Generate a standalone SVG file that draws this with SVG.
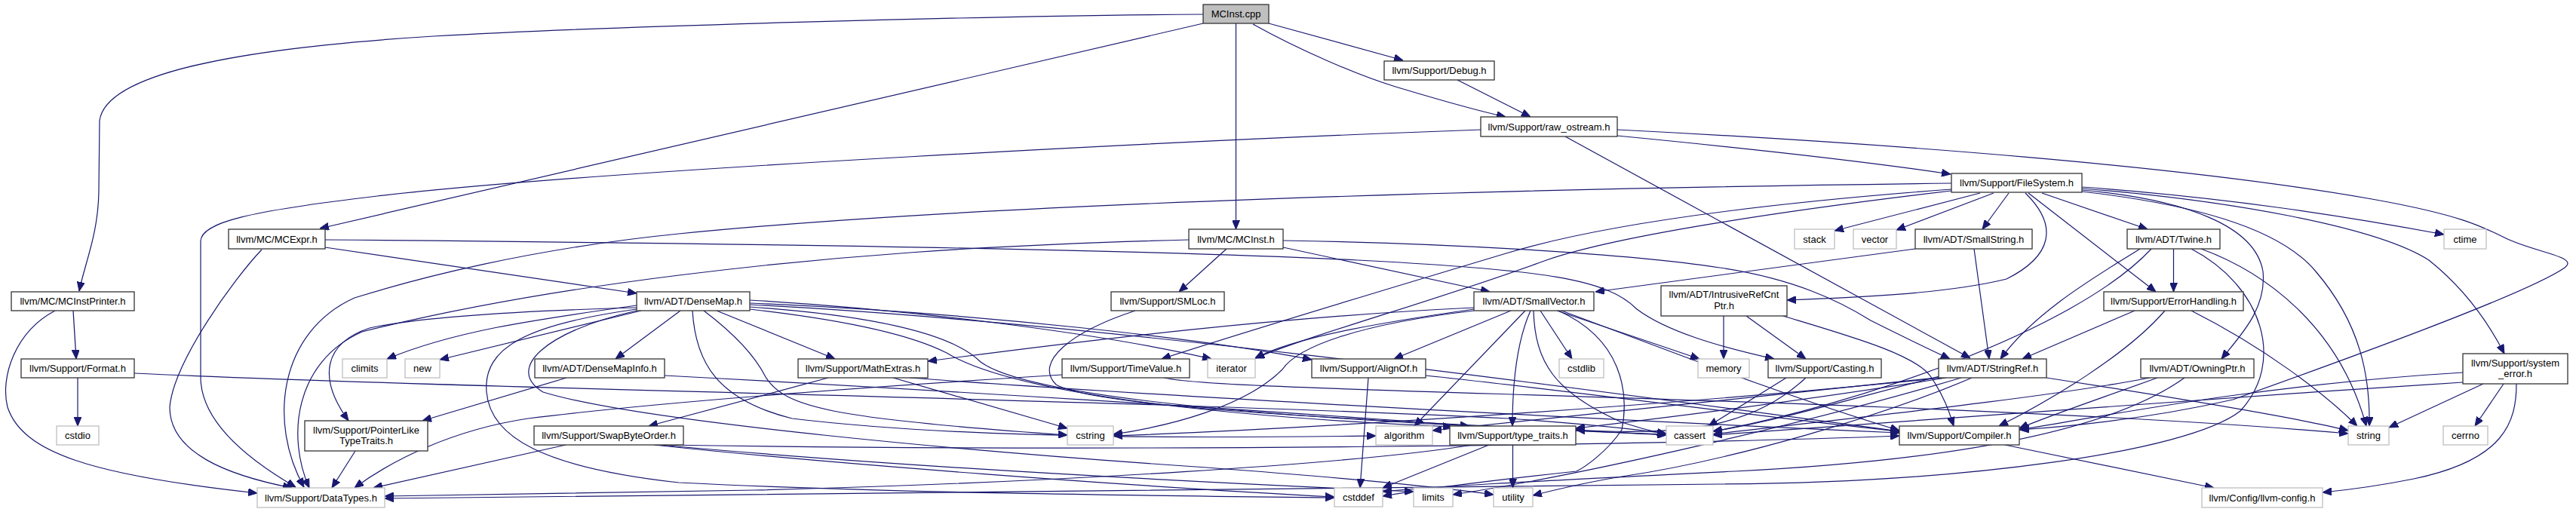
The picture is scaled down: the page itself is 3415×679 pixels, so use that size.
<svg xmlns="http://www.w3.org/2000/svg" width="3415" height="679" viewBox="0 0 3415 679">
<defs>
<style>
.n rect{fill:#ffffff;stroke:#333333;stroke-width:1.3}
.g rect{fill:#ffffff;stroke:#bfbfbf;stroke-width:1.3}
.r rect{fill:#bfbfbf;stroke:#333333;stroke-width:1.3}
text{font-family:"Liberation Sans",Arial,Helvetica,sans-serif;font-size:13px;fill:#000000;text-anchor:middle}
.e path{fill:none;stroke:#191970;stroke-width:1.2;marker-end:url(#ah)}
</style>
<marker id="ah" markerUnits="userSpaceOnUse" markerWidth="12" markerHeight="10" viewBox="0 0 12 10" refX="12" refY="5" orient="auto">
<path d="M0,0 L12,5 L0,10 z" fill="#191970" stroke="#191970"/>
</marker>
</defs>
<rect x="0" y="0" width="3415" height="679" fill="#ffffff"/>
<g id="connectors" class="e">
<path d="M1595,19 C1300,21 800,35 575,48 C300,65 140,100 132,160 L131,250 C131,310 112,350 105,386"/>
<path d="M1595,31 L424,303"/>
<path d="M1638.5,31 L1638.5,304"/>
<path d="M1682,31 L1860,80"/>
<path d="M1661,32 C1720,65 1800,100 1850,115 C1900,130 1950,145 1996,155"/>
<path d="M1932,106 L2029,155"/>
<path d="M1963,172 C1600,185 800,225 500,260 C330,280 266,295 266,320 L266,500 C266,560 330,610 392,646"/>
<path d="M2144,180 C2350,200 2480,215 2586,231"/>
<path d="M2144,172 C2500,190 2900,220 3150,265 C3260,285 3290,300 3320,315 C3360,335 3420,340 3400,355 C3350,390 3100,480 2960,530 C2850,555 2750,565 2678,570"/>
<path d="M2075,181 L2612,475"/>
<path d="M2587,243 C2000,250 1300,270 900,310 C700,330 550,370 470,395 C370,440 355,560 403,646"/>
<path d="M2625,256 L2432,306"/>
<path d="M2643,256 L2514,305"/>
<path d="M2663,256 L2628,304"/>
<path d="M2707,256 L2847,304"/>
<path d="M2760,248 C2950,262 3100,285 3240,311"/>
<path d="M2587,251 C2400,265 2150,290 2000,335 C1800,395 1650,440 1540,476"/>
<path d="M2587,253 C2400,275 2150,310 2050,345 C1900,400 1750,440 1664,475"/>
<path d="M2685,256 C2730,300 2720,340 2660,370 C2580,390 2450,395 2369,398"/>
<path d="M2689,256 L2858,387"/>
<path d="M2760,252 C2900,265 2990,300 3000,360 C3005,410 2970,445 2945,476"/>
<path d="M2760,254 C2900,270 3020,300 3070,360 C3130,430 3142,500 3141,565"/>
<path d="M2760,250 C2950,265 3150,300 3220,345 C3270,385 3300,430 3320,469"/>
<path d="M431,328 L844,389"/>
<path d="M431,318 C900,322 1500,330 1800,345 C2050,358 2130,370 2170,410 C2210,440 2280,460 2352,476"/>
<path d="M347,331 C310,370 230,480 225,540 C225,600 300,630 387,647"/>
<path d="M1701,328 L1975,387"/>
<path d="M1701,319 C1900,322 2150,335 2280,355 C2380,370 2440,400 2480,425 C2520,445 2550,460 2585,476"/>
<path d="M1576,318 C1300,325 1100,340 900,365 C700,390 560,420 480,440 C390,480 380,580 410,647"/>
<path d="M1626,330 L1563,387"/>
<path d="M2539,330 L2115,387"/>
<path d="M2617,330 L2637,476"/>
<path d="M2837,330 C2790,360 2700,410 2652,476"/>
<path d="M2881.5,330 L2881.5,387"/>
<path d="M2918,330 C3000,360 3100,430 3137,565"/>
<path d="M2852,330 C2750,440 2450,540 2271,572"/>
<path d="M2905,330 C3000,380 3030,480 2970,545 C2900,600 2600,640 2280,642 C1500,650 900,655 510,661"/>
<path d="M97,412 L101,476"/>
<path d="M73,412 C20,440 0,500 10,540 C30,600 120,630 341,654"/>
<path d="M103,501 L103,565"/>
<path d="M178,495 C600,515 1500,530 2000,555 C2100,562 2160,568 2209,575"/>
<path d="M902,412 L816,476"/>
<path d="M950,412 L1107,476"/>
<path d="M844,405 C700,425 600,440 513,476"/>
<path d="M850,412 L583,477"/>
<path d="M844,408 C700,412 560,420 490,435 C430,455 420,500 462,558"/>
<path d="M994,398 C1200,410 1450,440 1606,476"/>
<path d="M994,402 C1300,415 1600,450 1739,477"/>
<path d="M933,412 C970,440 1000,470 1015,500 C1040,540 1100,555 1415,577"/>
<path d="M918,412 C922,480 950,530 1050,555 C1300,585 1650,580 1824,578"/>
<path d="M994,410 C1100,422 1200,440 1255,468 C1340,520 1600,552 1925,566"/>
<path d="M994,407 C1150,418 1260,440 1300,480 C1380,540 1900,565 2209,576"/>
<path d="M994,404 C1500,430 2200,530 2518,572"/>
<path d="M844,410 C700,430 640,460 645,520 C650,580 720,620 900,640 C1200,655 1600,658 1769,660"/>
<path d="M844,412 C720,440 670,490 720,520 C850,560 1300,600 1600,620 C1800,635 1900,645 1980,656"/>
<path d="M1505,412 C1420,440 1370,480 1400,510 C1460,545 1900,560 2209,577"/>
<path d="M2003,412 L1848,476"/>
<path d="M2022,412 L1875,565"/>
<path d="M2029,412 C2012,450 2005,500 2005,565"/>
<path d="M2042,412 L2084,476"/>
<path d="M2064,412 L2253,476"/>
<path d="M2033,412 C2035,480 2060,520 2150,560 C2180,570 2195,573 2209,576"/>
<path d="M2066,412 C2150,450 2160,520 2150,570 C2130,600 2100,620 2090,625 C1950,640 1880,650 1833,658"/>
<path d="M2070,412 C2200,460 2350,520 2518,571"/>
<path d="M1954,408 C1700,420 1450,450 1230,479"/>
<path d="M1954,410 C1850,425 1720,445 1664,475"/>
<path d="M1954,412 C1800,430 1720,460 1700,490 C1650,540 1550,565 1476,576"/>
<path d="M2285,419 L2285,476"/>
<path d="M2315,419 L2394,476"/>
<path d="M2364,419 C2450,445 2540,470 2560,500 C2580,530 2585,550 2590,565"/>
<path d="M2830,412 L2681,476"/>
<path d="M2870,412 C2820,470 2720,530 2650,565"/>
<path d="M2905,412 C3000,460 3080,520 3125,565"/>
<path d="M2860,501 C2780,530 2720,550 2677,568"/>
<path d="M2850,501 C2700,530 2400,560 2271,576"/>
<path d="M2896,501 C2800,570 2600,610 2300,625 C2000,640 1900,645 1833,652"/>
<path d="M2394,501 C2330,560 2250,580 2089,570"/>
<path d="M2368,501 L2265,565"/>
<path d="M2580,501 C2400,530 2200,555 2089,568"/>
<path d="M2575,500 C2300,530 2000,560 1899,571"/>
<path d="M2575,498 C2450,530 2350,560 2271,572"/>
<path d="M2575,501 C2200,540 1700,570 1476,578"/>
<path d="M2600,501 C2400,560 2100,630 1926,656"/>
<path d="M2614,501 C2500,550 2300,610 2150,632 C2100,640 2060,650 2032,657"/>
<path d="M2713,501 C2900,530 3050,555 3113,571"/>
<path d="M1098,501 L860,565"/>
<path d="M1184,501 L1415,568"/>
<path d="M1206,501 C1600,530 2200,560 2518,574"/>
<path d="M750,590 L495,647"/>
<path d="M867,590 C1100,615 1500,645 1769,659"/>
<path d="M875,590 C1200,620 1600,640 1874,652"/>
<path d="M880,590 C1500,600 2200,590 2518,578"/>
<path d="M751,501 L560,558"/>
<path d="M881,498 C1200,515 1700,545 1948,565"/>
<path d="M1408,497 C1200,510 900,530 700,555 C600,570 520,610 470,647"/>
<path d="M1543,501 C1600,515 2000,520 2500,540 C2800,552 3000,565 3113,575"/>
<path d="M1814,501 L1803,647"/>
<path d="M1890,498 C2100,520 2350,555 2518,572"/>
<path d="M1952,590 C1800,615 1400,640 1000,650 L510,658"/>
<path d="M1974,590 L1833,647"/>
<path d="M2005.5,590 L2005.5,647"/>
<path d="M471,598 L440,647"/>
<path d="M2658,590 L2935,647"/>
<path d="M3319,509 L3281,565"/>
<path d="M3292,509 L3167,567"/>
<path d="M3336,509 C3336,560 3320,610 3200,635 C3150,645 3110,650 3079,653"/>
<path d="M3265,494 C3000,510 2800,550 2677,570"/>
<path d="M3265,507 C2900,530 2500,560 2271,577"/>
</g>
<g id="n1" class="r"><rect x="1595" y="6" width="87" height="25"/><text x="1638.5" y="23">MCInst.cpp</text></g>
<g id="n2" class="n"><rect x="1835" y="81" width="146" height="25"/><text x="1908" y="98">llvm/Support/Debug.h</text></g>
<g id="n3" class="n"><rect x="1963" y="155" width="181" height="26"/><text x="2053.5" y="172.5">llvm/Support/raw_ostream.h</text></g>
<g id="n4" class="n"><rect x="2587" y="230" width="173" height="25"/><text x="2673.5" y="247">llvm/Support/FileSystem.h</text></g>
<g id="n5" class="n"><rect x="303" y="304" width="128" height="26"/><text x="367" y="321.5">llvm/MC/MCExpr.h</text></g>
<g id="n6" class="n"><rect x="1576" y="304" width="125" height="26"/><text x="1638.5" y="321.5">llvm/MC/MCInst.h</text></g>
<g id="n7" class="g"><rect x="2379" y="304" width="53" height="26"/><text x="2405.5" y="321.5">stack</text></g>
<g id="n8" class="g"><rect x="2457" y="304" width="57" height="26"/><text x="2485.5" y="321.5">vector</text></g>
<g id="n9" class="n"><rect x="2539" y="304" width="155" height="26"/><text x="2616.5" y="321.5">llvm/ADT/SmallString.h</text></g>
<g id="n10" class="n"><rect x="2820" y="304" width="123" height="26"/><text x="2881.5" y="321.5">llvm/ADT/Twine.h</text></g>
<g id="n11" class="g"><rect x="3240" y="304" width="56" height="26"/><text x="3268" y="321.5">ctime</text></g>
<g id="n12" class="n"><rect x="15" y="387" width="163" height="25"/><text x="96.5" y="404">llvm/MC/MCInstPrinter.h</text></g>
<g id="n13" class="n"><rect x="844" y="387" width="150" height="25"/><text x="919" y="404">llvm/ADT/DenseMap.h</text></g>
<g id="n14" class="n"><rect x="1473" y="387" width="150" height="25"/><text x="1548" y="404">llvm/Support/SMLoc.h</text></g>
<g id="n15" class="n"><rect x="1954" y="387" width="159" height="25"/><text x="2033.5" y="404">llvm/ADT/SmallVector.h</text></g>
<g id="n16" class="n"><rect x="2202" y="379" width="167" height="40"/><text x="2285.5" y="395">llvm/ADT/IntrusiveRefCnt</text><text x="2285.5" y="410">Ptr.h</text></g>
<g id="n17" class="n"><rect x="2789" y="387" width="185" height="25"/><text x="2881.5" y="404">llvm/Support/ErrorHandling.h</text></g>
<g id="n18" class="n"><rect x="28" y="476" width="150" height="25"/><text x="103" y="493">llvm/Support/Format.h</text></g>
<g id="n19" class="g"><rect x="454" y="476" width="59" height="25"/><text x="483.5" y="493">climits</text></g>
<g id="n20" class="g"><rect x="537" y="476" width="46" height="25"/><text x="560" y="493">new</text></g>
<g id="n21" class="n"><rect x="709" y="476" width="172" height="25"/><text x="795" y="493">llvm/ADT/DenseMapInfo.h</text></g>
<g id="n22" class="n"><rect x="1058" y="476" width="172" height="25"/><text x="1144" y="493">llvm/Support/MathExtras.h</text></g>
<g id="n23" class="n"><rect x="1408" y="476" width="169" height="25"/><text x="1492.5" y="493">llvm/Support/TimeValue.h</text></g>
<g id="n24" class="g"><rect x="1601" y="476" width="63" height="25"/><text x="1632.5" y="493">iterator</text></g>
<g id="n25" class="n"><rect x="1739" y="476" width="151" height="25"/><text x="1814.5" y="493">llvm/Support/AlignOf.h</text></g>
<g id="n26" class="g"><rect x="2067" y="476" width="59" height="25"/><text x="2096.5" y="493">cstdlib</text></g>
<g id="n27" class="g"><rect x="2251" y="476" width="68" height="25"/><text x="2285" y="493">memory</text></g>
<g id="n28" class="n"><rect x="2344" y="476" width="150" height="25"/><text x="2419" y="493">llvm/Support/Casting.h</text></g>
<g id="n29" class="n"><rect x="2570" y="476" width="143" height="25"/><text x="2641.5" y="493">llvm/ADT/StringRef.h</text></g>
<g id="n30" class="n"><rect x="2838" y="476" width="150" height="25"/><text x="2913" y="493">llvm/ADT/OwningPtr.h</text></g>
<g id="n31" class="n"><rect x="3265" y="469" width="139" height="40"/><text x="3334.5" y="486">llvm/Support/system</text><text x="3334.5" y="500">_error.h</text></g>
<g id="n32" class="g"><rect x="75" y="565" width="56" height="25"/><text x="103" y="582">cstdio</text></g>
<g id="n33" class="n"><rect x="404" y="558" width="163" height="40"/><text x="485.5" y="575">llvm/Support/PointerLike</text><text x="485.5" y="589">TypeTraits.h</text></g>
<g id="n34" class="n"><rect x="708" y="565" width="198" height="25"/><text x="807" y="582">llvm/Support/SwapByteOrder.h</text></g>
<g id="n35" class="g"><rect x="1415" y="565" width="61" height="25"/><text x="1445.5" y="582">cstring</text></g>
<g id="n36" class="g"><rect x="1824" y="565" width="75" height="25"/><text x="1861.5" y="582">algorithm</text></g>
<g id="n37" class="n"><rect x="1922" y="565" width="167" height="25"/><text x="2005.5" y="582">llvm/Support/type_traits.h</text></g>
<g id="n38" class="g"><rect x="2209" y="565" width="62" height="25"/><text x="2240" y="582">cassert</text></g>
<g id="n39" class="n"><rect x="2518" y="565" width="159" height="25"/><text x="2597.5" y="582">llvm/Support/Compiler.h</text></g>
<g id="n40" class="g"><rect x="3113" y="565" width="54" height="25"/><text x="3140" y="582">string</text></g>
<g id="n41" class="g"><rect x="3239" y="565" width="59" height="25"/><text x="3268.5" y="582">cerrno</text></g>
<g id="n42" class="g"><rect x="341" y="647" width="169" height="26"/><text x="425.5" y="664.5">llvm/Support/DataTypes.h</text></g>
<g id="n43" class="g"><rect x="1769" y="647" width="64" height="25"/><text x="1801" y="664">cstddef</text></g>
<g id="n44" class="g"><rect x="1874" y="647" width="52" height="25"/><text x="1900" y="664">limits</text></g>
<g id="n45" class="g"><rect x="1980" y="647" width="52" height="25"/><text x="2006" y="664">utility</text></g>
<g id="n46" class="g"><rect x="2919" y="647" width="160" height="26"/><text x="2999" y="664.5">llvm/Config/llvm-config.h</text></g>
</svg>
